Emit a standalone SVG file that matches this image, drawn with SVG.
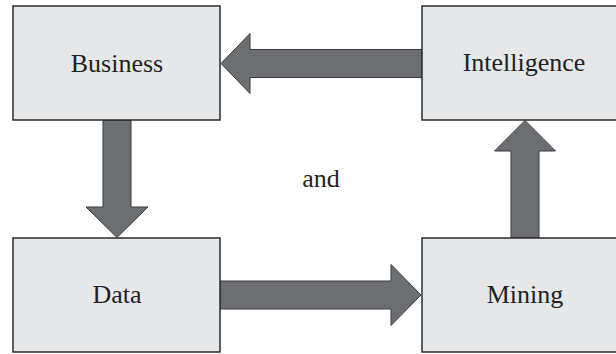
<svg xmlns="http://www.w3.org/2000/svg" width="616" height="354" viewBox="0 0 616 354">
<style>
.box{fill:#e6e7e8;stroke:#2b2b2b;stroke-width:1.5}
.arr{fill:#6d6e71;stroke:#3a3a3a;stroke-width:1}
text{font-family:"Liberation Serif","Times New Roman",serif;font-size:26px;fill:#231f20;text-anchor:middle}
</style>
<rect width="616" height="354" fill="#ffffff"/>
<g id="connectors">
<polygon class="arr" points="422,49.5 250,49.5 250,33.5 221,63.5 250,93.5 250,77.5 422,77.5"/>
<polygon class="arr" points="103,120 131,120 131,207 148,207 117,237.5 86,207 103,207"/>
<polygon class="arr" points="220,281 391,281 391,264.5 421,295 391,325.5 391,309 220,309"/>
<polygon class="arr" points="511,238 511,151 494.5,151 525,120.5 555.5,151 539,151 539,238"/>
</g>
<g id="business"><rect class="box" x="13" y="6" width="207" height="114"/><text x="117" y="72">Business</text></g>
<g id="intelligence"><rect class="box" x="422" y="6" width="200" height="114"/><text x="524" y="71">Intelligence</text></g>
<g id="data"><rect class="box" x="13" y="238" width="207" height="114"/><text x="117" y="303">Data</text></g>
<g id="mining"><rect class="box" x="422" y="238" width="200" height="114"/><text x="525" y="303">Mining</text></g>
<g id="and"><text x="321" y="187">and</text></g>
</svg>
